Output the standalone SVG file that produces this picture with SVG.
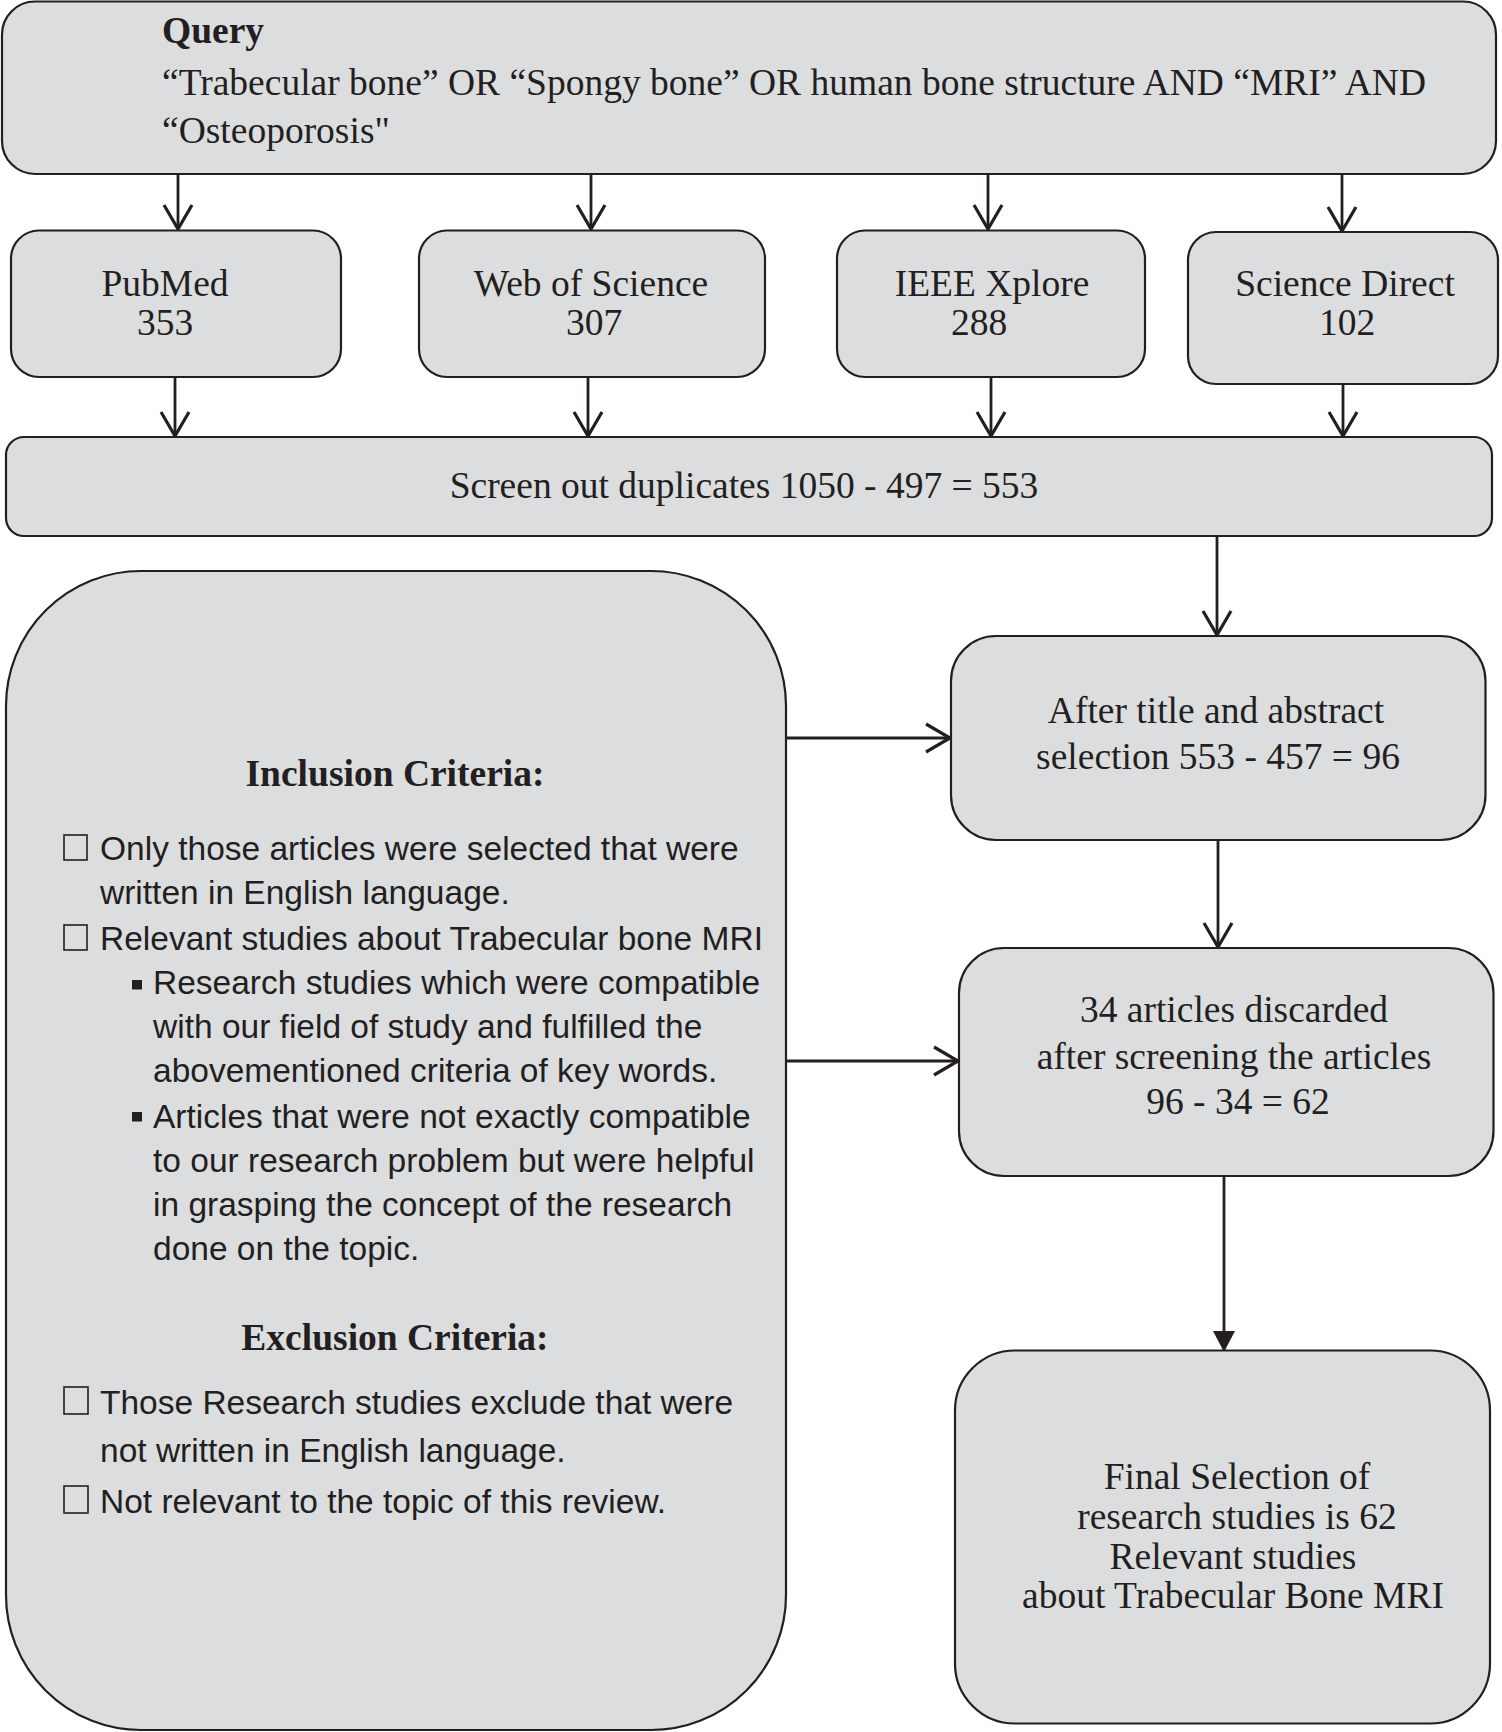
<svg xmlns="http://www.w3.org/2000/svg" width="1502" height="1732" viewBox="0 0 1502 1732">
<style>
.box{fill:#dcdddf;stroke:#231f20;stroke-width:2.2}
.serif{font-family:"Liberation Serif","Times New Roman",serif;font-size:37.5px;fill:#231f20}
.bold{font-weight:bold}
.mid{text-anchor:middle}
.sans{font-family:"Liberation Sans",Arial,sans-serif;font-size:33.5px;fill:#231f20}
.chk{fill:none;stroke:#231f20;stroke-width:1.6}
.sq{fill:#231f20}
.conn{fill:none;stroke:#231f20;stroke-width:2.8}
</style>
<defs>
<marker id="open" markerUnits="userSpaceOnUse" viewBox="-28 -18 32 36" refX="0" refY="0" markerWidth="32" markerHeight="36" orient="auto" overflow="visible">
<path d="M-24,-14 L0,0 L-24,14" fill="none" stroke="#231f20" stroke-width="3.2"/>
</marker>
<marker id="filled" markerUnits="userSpaceOnUse" viewBox="-24 -14 26 28" refX="0" refY="0" markerWidth="26" markerHeight="28" orient="auto" overflow="visible">
<path d="M-21,-11 L0,0 L-21,11 Z" fill="#231f20"/>
</marker>
</defs>
<rect width="1502" height="1732" fill="#ffffff"/>

<g id="connectors">
<line class="conn" x1="178" y1="174" x2="178" y2="229" marker-end="url(#open)"/>
<line class="conn" x1="591" y1="174" x2="591" y2="229" marker-end="url(#open)"/>
<line class="conn" x1="988" y1="174" x2="988" y2="229" marker-end="url(#open)"/>
<line class="conn" x1="1342" y1="174" x2="1342" y2="231" marker-end="url(#open)"/>
<line class="conn" x1="175" y1="377" x2="175" y2="436" marker-end="url(#open)"/>
<line class="conn" x1="588" y1="377" x2="588" y2="436" marker-end="url(#open)"/>
<line class="conn" x1="991" y1="377" x2="991" y2="436" marker-end="url(#open)"/>
<line class="conn" x1="1343" y1="384" x2="1343" y2="436" marker-end="url(#open)"/>
<line class="conn" x1="1217" y1="536" x2="1217" y2="635" marker-end="url(#open)"/>
<line class="conn" x1="786" y1="738" x2="950" y2="738" marker-end="url(#open)"/>
<line class="conn" x1="1218" y1="840" x2="1218" y2="947" marker-end="url(#open)"/>
<line class="conn" x1="786" y1="1061" x2="958" y2="1061" marker-end="url(#open)"/>
<line class="conn" x1="1224" y1="1176" x2="1224" y2="1352" marker-end="url(#filled)"/>
</g>

<g id="query">
<rect class="box" x="2" y="1.5" width="1494" height="172.5" rx="33" ry="33"/>
<text class="serif bold" x="162" y="43">Query</text>
<text class="serif" x="162" y="95">“Trabecular bone” OR “Spongy bone” OR human bone structure AND “MRI” AND</text>
<text class="serif" x="162" y="143">“Osteoporosis"</text>
</g>

<g id="pubmed">
<rect class="box" x="11" y="230.5" width="330" height="146.5" rx="28" ry="28"/>
<text class="serif mid" x="165" y="296">PubMed</text>
<text class="serif mid" x="165" y="335">353</text>
</g>

<g id="webofscience">
<rect class="box" x="419" y="230.5" width="346" height="146.5" rx="28" ry="28"/>
<text class="serif mid" x="591" y="296">Web of Science</text>
<text class="serif mid" x="594" y="335">307</text>
</g>

<g id="ieee">
<rect class="box" x="837" y="230.5" width="308" height="146.5" rx="28" ry="28"/>
<text class="serif mid" x="992" y="296">IEEE Xplore</text>
<text class="serif mid" x="979" y="335">288</text>
</g>

<g id="sciencedirect">
<rect class="box" x="1188" y="232" width="310" height="152" rx="28" ry="28"/>
<text class="serif mid" x="1345" y="296">Science Direct</text>
<text class="serif mid" x="1347" y="335">102</text>
</g>

<g id="screen">
<rect class="box" x="6" y="437" width="1486" height="99" rx="18" ry="18"/>
<text class="serif mid" x="744" y="498">Screen out duplicates 1050 - 497 = 553</text>
</g>

<g id="criteria">
<rect class="box" x="6" y="571" width="780" height="1159" rx="135" ry="135"/>
<text class="serif bold mid" x="395" y="786">Inclusion Criteria:</text>
<rect class="chk" x="64" y="835" width="23" height="25"/>
<text class="sans" x="100" y="860">Only those articles were selected that were</text>
<text class="sans" x="100" y="904">written in English language.</text>
<rect class="chk" x="64" y="925" width="23" height="25"/>
<text class="sans" x="100" y="950">Relevant studies about Trabecular bone MRI</text>
<rect class="sq" x="132" y="980" width="10" height="9.5"/>
<text class="sans" x="153" y="994">Research studies which were compatible</text>
<text class="sans" x="153" y="1038">with our field of study and fulfilled the</text>
<text class="sans" x="153" y="1082">abovementioned criteria of key words.</text>
<rect class="sq" x="132" y="1112" width="10" height="9.5"/>
<text class="sans" x="153" y="1128">Articles that were not exactly compatible</text>
<text class="sans" x="153" y="1172">to our research problem but were helpful</text>
<text class="sans" x="153" y="1216">in grasping the concept of the research</text>
<text class="sans" x="153" y="1260">done on the topic.</text>
<text class="serif bold mid" x="395" y="1350">Exclusion Criteria:</text>
<rect class="chk" x="64" y="1387" width="24" height="27"/>
<text class="sans" x="100" y="1414">Those Research studies exclude that were</text>
<text class="sans" x="100" y="1462">not written in English language.</text>
<rect class="chk" x="64" y="1486" width="24" height="27"/>
<text class="sans" x="100" y="1513">Not relevant to the topic of this review.</text>
</g>

<g id="titleabstract">
<rect class="box" x="951" y="636" width="534.5" height="204" rx="45" ry="45"/>
<text class="serif mid" x="1216" y="723">After title and abstract</text>
<text class="serif mid" x="1218" y="768.5">selection 553 - 457 = 96</text>
</g>

<g id="discarded">
<rect class="box" x="959" y="948" width="534.5" height="228" rx="45" ry="45"/>
<text class="serif mid" x="1234" y="1022">34 articles discarded</text>
<text class="serif mid" x="1234" y="1069">after screening the articles</text>
<text class="serif mid" x="1238" y="1114">96 - 34 = 62</text>
</g>

<g id="final">
<rect class="box" x="955" y="1350.5" width="535" height="373" rx="60" ry="60"/>
<text class="serif mid" x="1237" y="1488.5">Final Selection of</text>
<text class="serif mid" x="1237" y="1528.5">research studies is 62</text>
<text class="serif mid" x="1233" y="1568.5">Relevant studies</text>
<text class="serif mid" x="1233" y="1607.5">about Trabecular Bone MRI</text>
</g>
</svg>
